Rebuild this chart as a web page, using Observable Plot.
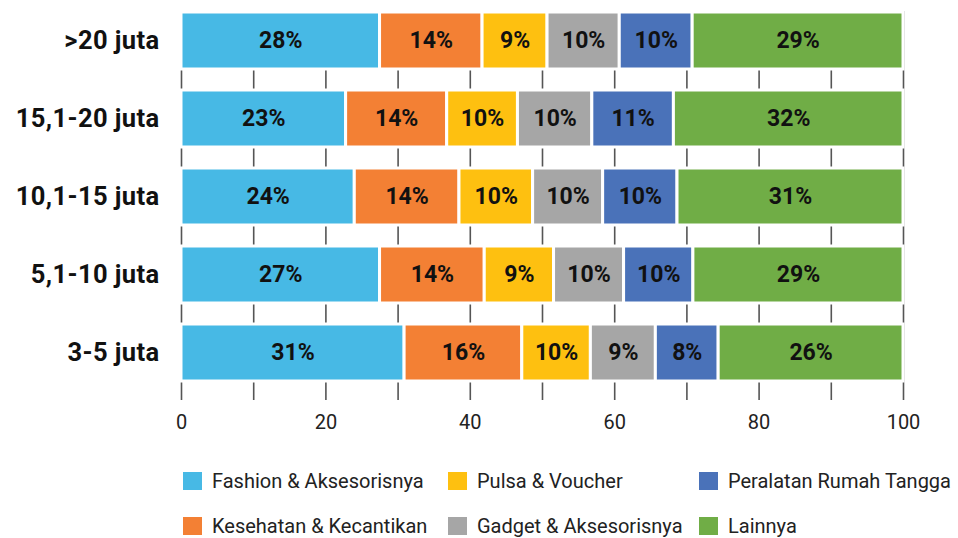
<!DOCTYPE html>
<html>
<head>
<meta charset="utf-8">
<script src="https://cdn.jsdelivr.net/npm/d3@7"></script>
<script src="https://cdn.jsdelivr.net/npm/@observablehq/plot@0.6"></script>
<style>
  body { margin: 0; background: #fff; }
  #wrap { width: 958px; height: 538px; position: relative; overflow: hidden; font-family: Roboto, "Noto Sans", sans-serif; }
  .legend { display: grid; grid-auto-flow: column; grid-template-rows: 45px 45px; grid-template-columns: 265px 251px 260px; margin-left: 183px; padding-top: 18px; }
  .item { display: flex; align-items: center; font-size: 20px; color: #222; white-space: nowrap; }
  .sw { width: 19px; height: 18px; margin-right: 10px; flex: none; }
  svg g[aria-label="y-axis tick label"] text { letter-spacing: 0.4px; }
</style>
</head>
<body>
<div id="wrap"></div>
<script>
const groups = [">20 juta", "15,1-20 juta", "10,1-15 juta", "5,1-10 juta", "3-5 juta"];
const categories = ["Fashion & Aksesorisnya", "Kesehatan & Kecantikan", "Pulsa & Voucher", "Gadget & Aksesorisnya", "Peralatan Rumah Tangga", "Lainnya"];
const colors = ["#47B9E5", "#F38034", "#FEC010", "#A6A6A6", "#4A72B9", "#70AD46"];

// estimated segment widths (%) per income group, in the order of groups
const fashion   = [27.5, 22.8, 24.0, 27.5, 30.9];
const kesehatan = [14.2, 14.0, 14.5, 14.5, 16.3];
const pulsa     = [9.0, 9.8, 10.2, 9.6, 9.5];
const gadget    = [10.0, 10.3, 9.7, 9.7, 9.0];
const peralatan = [10.1, 11.3, 10.3, 9.6, 8.7];
const lainnya   = [29.2, 31.8, 31.3, 29.1, 25.6];

// labels printed on the bars
const fashionLbl   = ["28%", "23%", "24%", "27%", "31%"];
const kesehatanLbl = ["14%", "14%", "14%", "14%", "16%"];
const pulsaLbl     = ["9%", "10%", "10%", "9%", "10%"];
const gadgetLbl    = ["10%", "10%", "10%", "10%", "9%"];
const peralatanLbl = ["10%", "11%", "10%", "10%", "8%"];
const lainnyaLbl   = ["29%", "32%", "31%", "29%", "26%"];

const xTicks = [0, 20, 40, 60, 80, 100];
const gridTicks = [0, 10, 20, 30, 40, 50, 60, 70, 80, 90, 100];

const seriesValues = [fashion, kesehatan, pulsa, gadget, peralatan, lainnya];
const seriesLabels = [fashionLbl, kesehatanLbl, pulsaLbl, gadgetLbl, peralatanLbl, lainnyaLbl];

const data = [];
groups.forEach((g, gi) => {
  categories.forEach((c, ci) => {
    data.push({group: g, category: c, value: seriesValues[ci][gi], label: seriesLabels[ci][gi]});
  });
});

const chart = Plot.plot({
  width: 958,
  height: 440,
  marginLeft: 181,
  marginRight: 55,
  marginTop: 11,
  marginBottom: 40,
  style: {fontFamily: "Roboto, 'Noto Sans', sans-serif", background: "#fff"},
  x: {domain: [0, 100], ticks: xTicks, tickSize: 0, tickPadding: 14, label: null},
  y: {domain: groups, range: [11, 382], paddingInner: 0.27, paddingOuter: 0, label: null, tickSize: 0, tickPadding: 22},
  color: {domain: categories, range: colors},
  marks: [
    Plot.ruleX(gridTicks, {stroke: "#555", strokeWidth: 1.6}),
    Plot.barX(data, Plot.stackX({x: "value", y: "group", fill: "category", stroke: "#fff", strokeWidth: 3, order: null})),
    Plot.text(data, Plot.stackX({x: "value", y: "group", text: "label", fill: "#111", fontSize: 23, fontWeight: 700, order: null})),
    Plot.axisX({ticks: xTicks, tickSize: 0, tickPadding: 14, fontSize: 20, color: "#222", label: null}),
    Plot.axisY({tickSize: 0, tickPadding: 22, fontSize: 25.5, fontWeight: 700, color: "#111", label: null})
  ]
});

const wrap = document.getElementById("wrap");
wrap.appendChild(chart);

const legend = document.createElement("div");
legend.className = "legend";
categories.forEach((c, i) => {
  const item = document.createElement("div");
  item.className = "item";
  const sw = document.createElement("span");
  sw.className = "sw";
  sw.style.background = colors[i];
  item.appendChild(sw);
  item.appendChild(document.createTextNode(c));
  legend.appendChild(item);
});
wrap.appendChild(legend);
</script>
</body>
</html>
